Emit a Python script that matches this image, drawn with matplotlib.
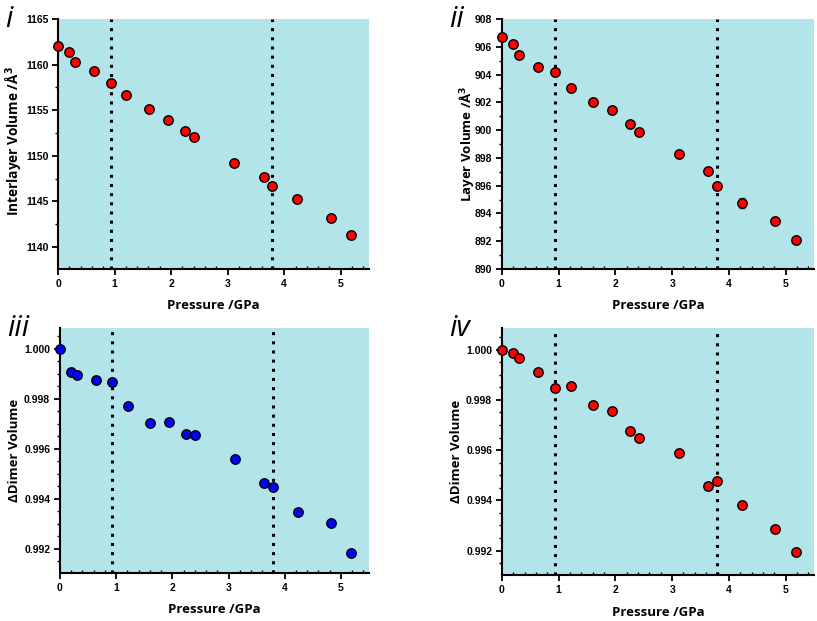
import matplotlib
matplotlib.use("Agg")
import matplotlib.pyplot as plt
from matplotlib.ticker import MultipleLocator, FormatStrFormatter

plt.rcParams['font.family'] = ['Liberation Sans', 'DejaVu Sans']

pressure = [0.0, 0.20, 0.30, 0.64, 0.93, 1.21, 1.61, 1.94, 2.25, 2.41,
            3.12, 3.64, 3.79, 4.23, 4.82, 5.18]

interlayer_volume = [1162.08, 1161.39, 1160.33, 1159.31, 1158.03, 1156.72,
                     1155.18, 1153.94, 1152.74, 1152.04, 1149.27, 1147.66,
                     1146.75, 1145.25, 1143.14, 1141.31]

layer_volume = [906.73, 906.18, 905.41, 904.55, 904.21, 903.04, 902.00,
                901.45, 900.45, 899.87, 898.29, 897.06, 896.01, 894.76,
                893.47, 892.10]
layer_volume_err = [0, 0, 0, 0, 0, 0.2, 0, 0, 0, 0, 0, 0, 0, 0.35, 0, 0]

dimer_iii = [1.0000, 0.99909, 0.99896, 0.99877, 0.99868, 0.99771, 0.99705,
             0.99708, 0.99661, 0.99655, 0.99560, 0.99463, 0.99449, 0.99347,
             0.99301, 0.99181]

dimer_iv = [1.0000, 0.99985, 0.99967, 0.99912, 0.99846, 0.99857, 0.99781,
            0.99754, 0.99676, 0.99650, 0.99590, 0.99457, 0.99479, 0.99383,
            0.99288, 0.99195]

transitions = [0.93, 3.79]

bg = '#b3e4ea'
label_font = ['Open Sans', 'DejaVu Sans']

fig = plt.figure(figsize=(8.17, 6.21), dpi=100)

panels = [
    dict(rect=[0.071, 0.5668, 0.3807, 0.4026], y=interlayer_volume, err=None,
         color='#ff0000', ylim=(1137.6, 1165), major=5, minor=2.5, fmt='%d',
         ylabel='Interlayer Volume /Å$^\\mathbf{3}$', tag='i',
         ylc=(-0.14, 0.51), xlc=(0.5, -0.144), fs=9.8),
    dict(rect=[0.6144, 0.5668, 0.3819, 0.4026], y=layer_volume, err=layer_volume_err,
         color='#ff0000', ylim=(890, 908), major=2, minor=1, fmt='%d',
         ylabel='Layer Volume /Å$^\\mathbf{3}$', tag='ii',
         ylc=(-0.115, 0.5), xlc=(0.5, -0.144), fs=9.5),
    dict(rect=[0.0734, 0.0773, 0.3782, 0.3945], y=dimer_iii, err=None,
         color='#0000ff', ylim=(0.99103, 1.00083), major=0.002, minor=0.0005, fmt='%.3f',
         ylabel='ΔDimer Volume', tag='iii',
         ylc=(-0.146, 0.5), xlc=(0.5, -0.151), fs=9.5),
    dict(rect=[0.6144, 0.0741, 0.3819, 0.3977], y=dimer_iv, err=None,
         color='#ff0000', ylim=(0.99103, 1.00086), major=0.002, minor=0.0005, fmt='%.3f',
         ylabel='ΔDimer Volume', tag='iv',
         ylc=(-0.147, 0.5), xlc=(0.5, -0.151), fs=9.5),
]

for p in panels:
    ax = fig.add_axes(p['rect'])
    ax.set_facecolor(bg)
    for tx in transitions:
        ax.axvline(tx, color='black', lw=2.2, ls=(0, (1, 2.0)), zorder=1)
    if p['err'] is not None:
        ax.errorbar(pressure, p['y'], yerr=p['err'], fmt='none', ecolor='#555555',
                    elinewidth=1, capsize=2, zorder=2)
    ax.plot(pressure, p['y'], ls='none', marker='o', markersize=6.8,
            markerfacecolor=p['color'], markeredgecolor='black',
            markeredgewidth=1.0, zorder=3, clip_on=False)
    ax.set_xlim(0, 5.5)
    ax.set_ylim(*p['ylim'])
    ax.xaxis.set_major_locator(MultipleLocator(1))
    ax.xaxis.set_minor_locator(MultipleLocator(0.2))
    ax.yaxis.set_major_locator(MultipleLocator(p['major']))
    ax.yaxis.set_minor_locator(MultipleLocator(p['minor']))
    ax.yaxis.set_major_formatter(FormatStrFormatter(p['fmt']))
    for s in ['top', 'right']:
        ax.spines[s].set_visible(False)
    for s in ['left', 'bottom']:
        ax.spines[s].set_linewidth(1.5)
    ax.tick_params(axis='both', which='major', direction='out', length=4, width=1.3,
                   labelsize=7.5, pad=3)
    ax.tick_params(axis='y', which='minor', direction='out', length=2.5, width=1)
    ax.tick_params(axis='x', which='minor', direction='in', length=2.5, width=1)
    for lab in ax.get_xticklabels() + ax.get_yticklabels():
        lab.set_fontweight('bold')
    ax.set_xlabel('Pressure /GPa', fontsize=9.5, fontweight='bold', family=label_font)
    ax.set_ylabel(p['ylabel'], fontsize=p['fs'], fontweight='bold', family=label_font)
    ax.xaxis.set_label_coords(*p['xlc'])
    ax.yaxis.set_label_coords(*p['ylc'])
    ax.xaxis.label.set_va('center')
    ax.yaxis.label.set_va('center')
    ax.text(-0.17, 1.0, p['tag'], transform=ax.transAxes, fontsize=21,
            fontstyle='italic', ha='left', va='center', family=label_font)

fig.savefig('out.png', dpi=100)
